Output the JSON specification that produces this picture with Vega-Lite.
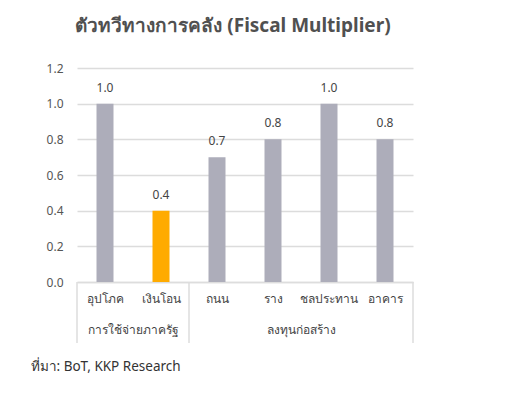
{
  "$schema": "https://vega.github.io/schema/vega-lite/v6.json",
  "width": 336,
  "height": 214,
  "autosize": {"type": "none"},
  "padding": {"left": 77, "top": 68, "right": 109, "bottom": 112},
  "background": "white",
  "config": {"view": {"stroke": null}, "font": "Noto Sans"},
  "title": {
    "text": "ตัวทวีทางการคลัง (Fiscal Multiplier)",
    "fontSize": 19,
    "fontWeight": "bold",
    "color": "#505050",
    "anchor": "middle",
    "dx": -12,
    "offset": 26
  },
  "data": {
    "values": [
      {"item": "อุปโภค", "group": "การใช้จ่ายภาครัฐ", "value": 1.0},
      {"item": "เงินโอน", "group": "การใช้จ่ายภาครัฐ", "value": 0.4},
      {"item": "ถนน", "group": "ลงทุนก่อสร้าง", "value": 0.7},
      {"item": "ราง", "group": "ลงทุนก่อสร้าง", "value": 0.8},
      {"item": "ชลประทาน", "group": "ลงทุนก่อสร้าง", "value": 1.0},
      {"item": "อาคาร", "group": "ลงทุนก่อสร้าง", "value": 0.8}
    ]
  },
  "encoding": {
    "x": {
      "field": "item",
      "type": "nominal",
      "sort": null,
      "scale": {"paddingInner": 0, "paddingOuter": 0},
      "axis": {
        "labelAngle": 0,
        "ticks": false,
        "domain": true,
        "domainColor": "#dddddd",
        "domainWidth": 1.5,
        "labelPadding": 11,
        "labelFontSize": 12,
        "labelColor": "#444444",
        "labelOverlap": false,
        "title": "ที่มา: BoT, KKP Research",
        "titleX": -47,
        "titleY": 84,
        "titleAlign": "left",
        "titleBaseline": "middle",
        "titleFontWeight": "normal",
        "titleFontSize": 13.5,
        "titleColor": "#333333"
      }
    },
    "y": {
      "field": "value",
      "type": "quantitative",
      "scale": {"domain": [0, 1.2], "nice": false},
      "axis": {
        "tickCount": 7,
        "format": ".1f",
        "domain": false,
        "ticks": false,
        "labelPadding": 14,
        "labelFontSize": 12,
        "labelColor": "#555555",
        "labelOverlap": false,
        "gridColor": "#dcdcdc",
        "gridWidth": 1.5,
        "title": null
      }
    }
  },
  "layer": [
    {
      "mark": {"type": "bar", "width": 17},
      "encoding": {
        "color": {
          "field": "item",
          "type": "nominal",
          "scale": {
            "domain": ["อุปโภค", "เงินโอน", "ถนน", "ราง", "ชลประทาน", "อาคาร"],
            "range": ["#ADADBA", "#FFAB00", "#ADADBA", "#ADADBA", "#ADADBA", "#ADADBA"]
          },
          "legend": null
        }
      }
    },
    {
      "mark": {"type": "text", "baseline": "bottom", "dy": -9, "fontSize": 12, "color": "#444444"},
      "encoding": {
        "text": {"field": "value", "type": "quantitative", "format": ".1f"}
      }
    },
    {
      "transform": [
        {"window": [{"op": "row_number", "as": "rn"}], "groupby": ["group"]},
        {"filter": "datum.rn == 1"}
      ],
      "mark": {"type": "rule", "color": "#dddddd", "strokeWidth": 1.5, "clip": false},
      "encoding": {
        "x": {"field": "item", "type": "nominal", "sort": null, "bandPosition": 0},
        "y": {"datum": 0, "type": "quantitative"},
        "y2": {"datum": -0.342}
      }
    },
    {
      "transform": [
        {"window": [{"op": "row_number", "as": "rn"}]},
        {"joinaggregate": [{"op": "count", "as": "cnt"}]},
        {"filter": "datum.rn == datum.cnt"}
      ],
      "mark": {"type": "rule", "color": "#dddddd", "strokeWidth": 1.5, "clip": false},
      "encoding": {
        "x": {"field": "item", "type": "nominal", "sort": null, "bandPosition": 1},
        "y": {"datum": 0, "type": "quantitative"},
        "y2": {"datum": -0.342}
      }
    },
    {
      "transform": [
        {"window": [{"op": "row_number", "as": "rn"}], "groupby": ["group"]},
        {"joinaggregate": [{"op": "count", "as": "cnt"}], "groupby": ["group"]},
        {"filter": "datum.rn == datum.cnt / 2 + 1"}
      ],
      "mark": {"type": "text", "baseline": "middle", "fontSize": 12, "color": "#444444", "clip": false},
      "encoding": {
        "x": {"field": "item", "type": "nominal", "sort": null, "bandPosition": 0},
        "y": {"datum": -0.27, "type": "quantitative"},
        "text": {"field": "group", "type": "nominal"}
      }
    }
  ]
}
